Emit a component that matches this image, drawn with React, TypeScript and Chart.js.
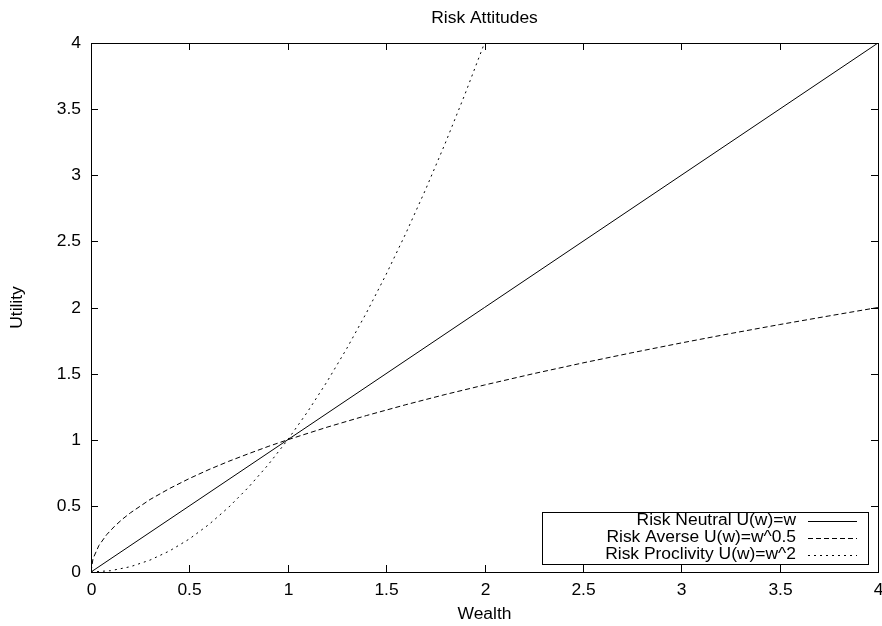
import React, { useEffect, useRef } from "react";
import { Chart, registerables } from "chart.js";

Chart.register(...registerables);

// Utility curves sampled over wealth
const neutralWealth = [0, 4];
const neutralUtility = [0, 4];

const averseWealth = [0, 0.01, 0.04, 0.08, 0.12, 0.16, 0.2, 0.3, 0.4, 0.5, 0.6, 0.7, 0.8, 0.9, 1.0, 1.2, 1.4, 1.6, 1.8, 2.0, 2.25, 2.5, 2.75, 3.0, 3.25, 3.5, 3.75, 4.0];
const averseUtility = [0, 0.1, 0.2, 0.283, 0.346, 0.4, 0.447, 0.548, 0.632, 0.707, 0.775, 0.837, 0.894, 0.949, 1.0, 1.095, 1.183, 1.265, 1.342, 1.414, 1.5, 1.581, 1.658, 1.732, 1.803, 1.871, 1.936, 2.0];

const proclivityWealth = [0, 0.1, 0.2, 0.3, 0.4, 0.5, 0.6, 0.7, 0.8, 0.9, 1.0, 1.1, 1.2, 1.3, 1.4, 1.5, 1.6, 1.7, 1.8, 1.9, 2.0];
const proclivityUtility = [0, 0.01, 0.04, 0.09, 0.16, 0.25, 0.36, 0.49, 0.64, 0.81, 1.0, 1.21, 1.44, 1.69, 1.96, 2.25, 2.56, 2.89, 3.24, 3.61, 4.0];

const xTicks = [0, 0.5, 1, 1.5, 2, 2.5, 3, 3.5, 4];
const yTicks = [0, 0.5, 1, 1.5, 2, 2.5, 3, 3.5, 4];

const seriesNames = ["Risk Neutral U(w)=w", "Risk Averse U(w)=w^0.5", "Risk Proclivity U(w)=w^2"];
const seriesDashes: number[][] = [[], [5, 3], [2, 4]];

const titleText = "Risk Attitudes";
const xTitle = "Wealth";
const yTitle = "Utility";

const FONT = "16px 'Liberation Sans', Arial, sans-serif";
const STRETCH = 1.09;

const toPoints = (xs: number[], ys: number[]) => xs.map((x, i) => ({ x, y: ys[i] }));

// Text in the slightly wide face used throughout the plot
function label(ctx: CanvasRenderingContext2D, text: string, x: number, y: number, align: CanvasTextAlign, rotate = 0) {
  ctx.save();
  ctx.translate(x, y);
  if (rotate) ctx.rotate(rotate);
  ctx.scale(STRETCH, 1);
  ctx.textAlign = align;
  ctx.textBaseline = "middle";
  ctx.fillText(text, 0, 0);
  ctx.restore();
}

// Draws the gnuplot-style frame, inward ticks, labels, title and key
const framePlugin = {
  id: "frame",
  afterDraw(chart: any) {
    const { ctx, chartArea: a, scales } = chart;
    const xs = scales.x;
    const ys = scales.y;
    const tick = 7;
    ctx.save();
    ctx.strokeStyle = "#000";
    ctx.fillStyle = "#000";
    ctx.lineWidth = 1;
    ctx.setLineDash([]);
    ctx.font = FONT;

    // border
    ctx.strokeRect(Math.round(a.left) + 0.5, Math.round(a.top) + 0.5, Math.round(a.right - a.left), Math.round(a.bottom - a.top));

    // x ticks (bottom and top, pointing inward)
    xTicks.forEach((v) => {
      const px = Math.round(xs.getPixelForValue(v)) + 0.5;
      ctx.beginPath();
      ctx.moveTo(px, a.bottom);
      ctx.lineTo(px, a.bottom - tick);
      ctx.moveTo(px, a.top);
      ctx.lineTo(px, a.top + tick);
      ctx.stroke();
      label(ctx, String(v), px, a.bottom + 19, "center");
    });

    // y ticks (left and right, pointing inward)
    yTicks.forEach((v) => {
      const py = Math.round(ys.getPixelForValue(v)) + 0.5;
      ctx.beginPath();
      ctx.moveTo(a.left, py);
      ctx.lineTo(a.left + tick, py);
      ctx.moveTo(a.right, py);
      ctx.lineTo(a.right - tick, py);
      ctx.stroke();
      label(ctx, String(v), a.left - 10, py, "right");
    });

    // titles
    label(ctx, titleText, (a.left + a.right) / 2, 19, "center");
    label(ctx, xTitle, (a.left + a.right) / 2, 615, "center");
    label(ctx, yTitle, 18, (a.top + a.bottom) / 2, "center", -Math.PI / 2);

    // key box
    const boxL = 542.5, boxT = 512.5, boxR = 868.5, boxB = 564.5;
    ctx.fillStyle = "#fff";
    ctx.fillRect(boxL, boxT, boxR - boxL, boxB - boxT);
    ctx.strokeRect(boxL, boxT, boxR - boxL, boxB - boxT);
    ctx.fillStyle = "#000";
    const rowY = [521, 538, 555];
    seriesNames.forEach((name, i) => {
      label(ctx, name, 796, rowY[i], "right");
      ctx.setLineDash(seriesDashes[i]);
      ctx.beginPath();
      ctx.moveTo(808, rowY[i] + 0.5);
      ctx.lineTo(857, rowY[i] + 0.5);
      ctx.stroke();
    });
    ctx.setLineDash([]);
    ctx.restore();
  },
};

export default function App() {
  const ref = useRef<HTMLCanvasElement | null>(null);

  useEffect(() => {
    if (!ref.current) return;
    const chart = new Chart(ref.current, {
      type: "scatter",
      data: {
        datasets: [
          { label: seriesNames[0], data: toPoints(neutralWealth, neutralUtility), showLine: true, borderColor: "#000", borderWidth: 1, borderDash: seriesDashes[0], pointRadius: 0 },
          { label: seriesNames[1], data: toPoints(averseWealth, averseUtility), showLine: true, borderColor: "#000", borderWidth: 1, borderDash: seriesDashes[1], pointRadius: 0 },
          { label: seriesNames[2], data: toPoints(proclivityWealth, proclivityUtility), showLine: true, borderColor: "#000", borderWidth: 1, borderDash: seriesDashes[2], pointRadius: 0 },
        ],
      },
      options: {
        responsive: false,
        animation: false,
        events: [],
        layout: { padding: { left: 91, top: 43, right: 4, bottom: 54 } },
        plugins: { legend: { display: false }, tooltip: { enabled: false }, title: { display: false } },
        scales: {
          x: { type: "linear", min: 0, max: 4, display: false },
          y: { type: "linear", min: 0, max: 4, display: false },
        },
      },
      plugins: [framePlugin],
    });
    return () => chart.destroy();
  }, []);

  return (
    <div style={{ position: "absolute", left: 0, top: 0, width: 882, height: 626, background: "#fff" }}>
      <canvas ref={ref} width={882} height={626} />
    </div>
  );
}
